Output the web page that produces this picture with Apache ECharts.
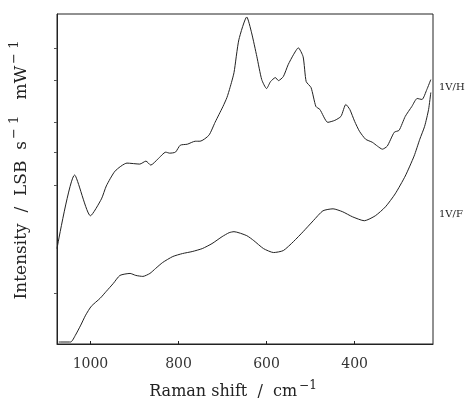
<!DOCTYPE html>
<html><head><meta charset="utf-8">
<script src="https://cdn.jsdelivr.net/npm/echarts@6/dist/echarts.min.js"></script>
<style>html,body{margin:0;padding:0;background:#fff}#c{width:465px;height:405px}</style>
</head><body><div id="c"></div>
<script>
// Raman shift (cm^-1) and intensity (arbitrary units)
const shiftH = [1076,1036,1000,975,964,944,917,888,874,863,847,829,820,807,796,780,762,751,731,717,708,699,690,683,674,663,645,634,622,611,600,591,580,573,562,551,539,528,517,510,499,488,479,461,445,431,420,411,400,389,375,360,348,337,326,310,299,285,270,258,247,236,227];
const intH   = [96,170,129,146,159,174,182,181,184,180,186,193,192,193,200,201,204,204,210,223,231,239,248,258,273,306,329,313,289,266,257,264,268,265,269,281,291,298,289,264,258,239,236,223,225,229,241,236,224,214,206,203,199,196,199,213,215,229,239,247,246,256,266];
const shiftF = [1072,1045,1034,1022,1011,998,978,964,948,933,910,897,881,865,852,836,813,791,769,746,724,701,685,674,645,629,607,584,562,539,517,494,472,449,427,405,378,353,330,308,285,265,252,241,232,227];
const intF   = [2,2,9,19,29,38,46,53,61,69,71,69,68,71,76,82,88,91,93,96,101,108,112,113,109,104,96,92,94,103,113,124,134,136,133,128,124,129,138,151,169,189,206,219,236,253];
const xTicks = [1000,800,600,400];
const yTicks = [51,160,193,223,265,298];
const labelH = '1V/H', labelF = '1V/F';

const ser = (xs, ys) => xs.map((x, i) => [x, ys[i]]);
const chart = echarts.init(document.getElementById('c'));
const font = 'DejaVu Serif';
chart.setOption({
  animation: false,
  backgroundColor: '#fff',
  grid: {left: 53, right: 32, top: 14, bottom: 59, show: true, borderColor: '#222', borderWidth: 1},
  xAxis: {
    type: 'value', inverse: true, min: 222, max: 1076,
    axisLine: {lineStyle: {color: '#222'}},
    axisTick: {inside: true, length: 3, lineStyle: {color: '#222'}, customValues: xTicks},
    axisLabel: {customValues: xTicks, formatter: v => String(v), fontFamily: font, fontSize: 14, color: '#333', margin: 13},
    splitLine: {show: false},
    name: '{n|Raman shift  /  cm}{s|−1}', nameLocation: 'middle', nameGap: 36,
    nameTextStyle: {padding: [0, 24, 0, 0], rich: {n: {fontFamily: font, fontSize: 16, color: '#222'}, s: {fontFamily: font, fontSize: 12, color: '#222', padding: [0,0,12,2]}}}
  },
  yAxis: {
    type: 'value', min: 0, max: 332,
    axisLine: {lineStyle: {color: '#222'}},
    axisTick: {length: 3, lineStyle: {color: '#555'}, customValues: yTicks},
    axisLabel: {show: false},
    splitLine: {show: false},
    name: '{n|Intensity  /  LSB  s}{s|− 1}{n|   mW}{s|− 1}', nameLocation: 'middle', nameGap: 22, nameRotate: 90,
    nameTextStyle: {padding: [0, 0, 0, 18], rich: {n: {fontFamily: font, fontSize: 17, color: '#222'}, s: {fontFamily: font, fontSize: 13, color: '#222', padding: [0,0,14,2]}}}
  },
  series: [
    {type: 'line', data: ser(shiftH, intH), showSymbol: false, smooth: 0.2, lineStyle: {color: '#222', width: 1}},
    {type: 'line', data: ser(shiftF, intF), showSymbol: false, smooth: 0.2, lineStyle: {color: '#222', width: 1}}
  ],
  graphic: [
    {type: 'text', left: 439, top: 82, style: {text: labelH, fontFamily: font, fontSize: 10, fill: '#222'}},
    {type: 'text', left: 439, top: 209, style: {text: labelF, fontFamily: font, fontSize: 10, fill: '#222'}}
  ]
});
</script></body></html>
